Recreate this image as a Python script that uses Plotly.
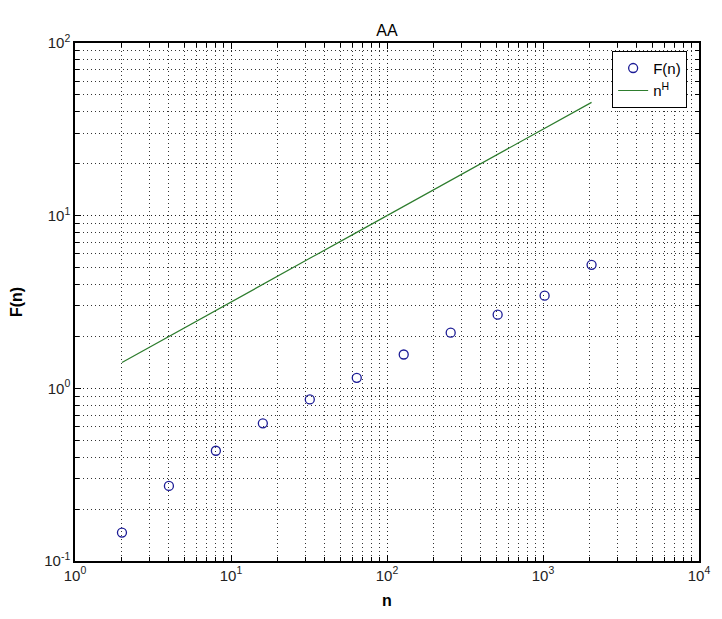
import plotly.graph_objects as go

n_vals = [2, 4, 8, 16, 32, 64, 128, 256, 512, 1024, 2048]
F_vals = [0.146, 0.272, 0.435, 0.627, 0.863, 1.15, 1.57, 2.10, 2.67, 3.44, 5.19]
nH_vals = [1.41, 2.0, 2.83, 4.0, 5.66, 8.0, 11.3, 16.0, 22.6, 32.0, 45.3]

x_tickvals = [1, 10, 100, 1000, 10000]
x_ticktext = ["10<sup>0</sup>", "10<sup>1</sup>", "10<sup>2</sup>", "10<sup>3</sup>", "10<sup>4</sup>"]
y_tickvals = [0.1, 1, 10, 100]
y_ticktext = ["10<sup>-1</sup>", "10<sup>0</sup>", "10<sup>1</sup>", "10<sup>2</sup>"]

font_family = "Liberation Sans, Arial, sans-serif"

fig = go.Figure()
fig.add_trace(go.Scatter(
    x=n_vals, y=F_vals, mode="markers", name="F(n)",
    marker=dict(symbol="circle-open", size=9, color="#1c1c96", line=dict(width=1.3)),
))
fig.add_trace(go.Scatter(
    x=n_vals, y=nH_vals, mode="lines", name="n<sup>H</sup>",
    line=dict(color="#2e7d2e", width=1.2),
))

axis_common = dict(
    type="log", showline=True, linecolor="black", linewidth=1.5, mirror="allticks",
    ticks="inside", ticklen=6, tickcolor="black", tickwidth=1,
    showgrid=True, gridcolor="#222222", gridwidth=1, griddash="1px,3px",
    zeroline=False,
    tickfont=dict(family=font_family, size=15, color="#222222"),
    minor=dict(ticks="inside", ticklen=4, tickcolor="black", showgrid=True,
               gridcolor="#333333", gridwidth=1, griddash="1px,3px", dtick="D1"),
)

fig.update_xaxes(**axis_common, range=[0, 4], tickvals=x_tickvals, ticktext=x_ticktext,
                 title=dict(text="<b>n</b>", font=dict(family=font_family, size=16, color="black"), standoff=12))
fig.update_yaxes(**axis_common, range=[-1, 2], tickvals=y_tickvals, ticktext=y_ticktext,
                 title=dict(text="<b>F(n)</b>", font=dict(family=font_family, size=16, color="black"), standoff=18))

fig.update_layout(
    width=722, height=619,
    margin=dict(l=75, r=13, t=43, b=56),
    paper_bgcolor="white", plot_bgcolor="white",
    title=dict(text="AA", x=0.5, xanchor="center", xref="paper", y=1 - 30 / 619, yanchor="middle",
               font=dict(family=font_family, size=16, color="black")),
    legend=dict(x=0.981, y=0.985, xanchor="right", yanchor="top", bgcolor="white",
                bordercolor="black", borderwidth=1, tracegroupgap=4,
                font=dict(family=font_family, size=15, color="black")),
    showlegend=True,
)

fig.write_html("out.html")
